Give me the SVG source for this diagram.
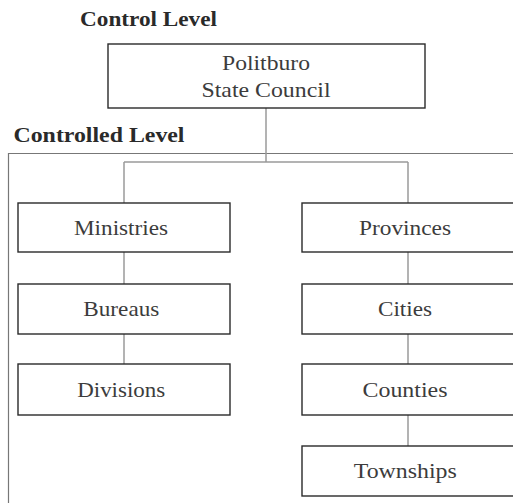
<svg xmlns="http://www.w3.org/2000/svg" width="513" height="503" viewBox="0 0 513 503">
<style>
.box{fill:#fff;stroke:#2a2a2a;stroke-width:1.4}
.lbl{font-family:"Liberation Serif",serif;font-size:22px;fill:#3c3c3c;text-anchor:middle}
.hdr{font-family:"Liberation Serif",serif;font-size:20px;font-weight:bold;fill:#2a2a2a}
.con{stroke:#9a9a9a;stroke-width:1.5;fill:none}
.frame{stroke:#777;stroke-width:1.2;fill:none}
</style>
<rect width="513" height="503" fill="#fff"/>
<text class="hdr" x="80" y="25.5" textLength="137" lengthAdjust="spacingAndGlyphs">Control Level</text>
<path class="frame" d="M8.5,503 V153.5 H520"/>
<text class="hdr" x="13.5" y="141.5" textLength="171" lengthAdjust="spacingAndGlyphs">Controlled Level</text>
<g id="connectors">
<path class="con" d="M266,108 V162 M124,162 H408 M124,162 V203 M124,252 V284 M124,334 V364 M408,162 V203 M408,252 V284 M408,334 V364 M408,415 V446"/>
</g>
<g id="politburo">
<rect class="box" x="108" y="44" width="317" height="64"/>
<text class="lbl" x="266" y="70" textLength="88" lengthAdjust="spacingAndGlyphs">Politburo</text>
<text class="lbl" x="266" y="97" textLength="129" lengthAdjust="spacingAndGlyphs">State Council</text>
</g>
<g id="ministries">
<rect class="box" x="18" y="203" width="212" height="49"/>
<text class="lbl" x="121" y="235" textLength="94" lengthAdjust="spacingAndGlyphs">Ministries</text>
</g>
<g id="bureaus">
<rect class="box" x="18" y="284" width="212" height="50"/>
<text class="lbl" x="121.3" y="316" textLength="76" lengthAdjust="spacingAndGlyphs">Bureaus</text>
</g>
<g id="divisions">
<rect class="box" x="18" y="364" width="212" height="51"/>
<text class="lbl" x="121.2" y="397" textLength="88" lengthAdjust="spacingAndGlyphs">Divisions</text>
</g>
<g id="provinces">
<rect class="box" x="302" y="203" width="230" height="49"/>
<text class="lbl" x="405" y="235" textLength="92" lengthAdjust="spacingAndGlyphs">Provinces</text>
</g>
<g id="cities">
<rect class="box" x="302" y="284" width="230" height="50"/>
<text class="lbl" x="405" y="316" textLength="54" lengthAdjust="spacingAndGlyphs">Cities</text>
</g>
<g id="counties">
<rect class="box" x="302" y="364" width="230" height="51"/>
<text class="lbl" x="405" y="397" textLength="85" lengthAdjust="spacingAndGlyphs">Counties</text>
</g>
<g id="townships">
<rect class="box" x="302" y="446" width="230" height="50"/>
<text class="lbl" x="405.3" y="478" textLength="103" lengthAdjust="spacingAndGlyphs">Townships</text>
</g>
</svg>
